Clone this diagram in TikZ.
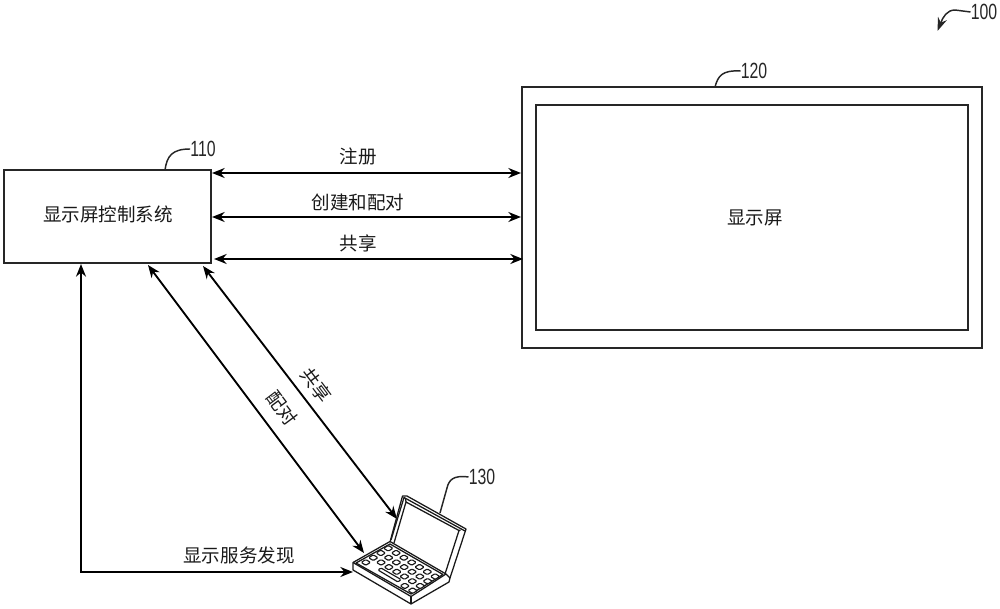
\documentclass[tikz,border=0pt]{standalone}
\usepackage{graphicx}
\usepackage{fontspec}
\setmainfont{Liberation Sans}
\newfontfamily\cjk{Noto Sans CJK SC}
\usetikzlibrary{arrows.meta}
\tikzset{
  box/.style={draw=black!85,line width=1.5pt,inner sep=0pt,fill=white},
  cn/.style={font=\cjk\fontsize{13.9}{16}\selectfont,inner sep=0pt,text=black!90},
  num/.style={font=\fontsize{16.5}{18}\selectfont,inner sep=0pt,text=black!85},
  link/.style={line width=1.4pt,black,{Stealth[length=9.5pt,width=7.5pt]}-{Stealth[length=9.5pt,width=7.5pt]}},
  leader/.style={line width=1.1pt,black!85},
  lap/.style={line width=.95pt,black!90,line join=round},
  keyb/.style={line width=.85pt,black!90,rounded corners=.8pt}
}
\newcommand{\numtxt}[1]{\scalebox{.72}[1]{#1}}
\begin{document}
\begin{tikzpicture}[x=.75pt,y=-.75pt]
\useasboundingbox (0,0) rectangle (1000,609);
% boxes
\node[box,minimum width=155.25pt,minimum height=69.75pt] (sys) at (107.5,216.5) {};
\node[cn] (systxt) at (108,214) {显示屏控制系统};
\node[box,minimum width=345pt,minimum height=195.75pt] (outer) at (752,217.5) {};
\node[box,minimum width=324pt,minimum height=168.75pt] (inner) at (752,217.5) {};
\node[cn] (distxt) at (755,218) {显示屏};
% anchors
\coordinate (a1) at (212,173); \coordinate (b1) at (521,173);
\coordinate (a2) at (212,217); \coordinate (b2) at (521,217);
\coordinate (a3) at (214,259); \coordinate (b3) at (523,259);
\coordinate (p1) at (148,265); \coordinate (p2) at (364,553);
\coordinate (s1) at (203,266); \coordinate (s2) at (397,519);
\coordinate (d1) at (81,264); \coordinate (dc) at (81,572); \coordinate (d2) at (353,572);
% links
\draw[link] (a1) -- (b1);
\draw[link] (a2) -- (b2);
\draw[link] (a3) -- (b3);
\draw[link] (p1) -- (p2);
\draw[link] (s1) -- (s2);
\draw[link] (d1) -- (dc) -- (d2);
% link labels
\node[cn] (l1) at (358,156) {注册};
\node[cn] (l2) at (358,202) {创建和配对};
\node[cn] (l3) at (358,243) {共享};
\node[cn,rotate=-53] (l4) at (316,385) {共享};
\node[cn,rotate=-53] (l5) at (282,408) {配对};
\node[cn] (l6) at (239,555) {显示服务发现};
% reference numerals
\node[num] (n100) at (984,12) {\numtxt{100}};
\node[num] (n110) at (203,149) {\numtxt{110}};
\node[num] (n120) at (754,71) {\numtxt{120}};
\node[num] (n130) at (482,477) {\numtxt{130}};
\coordinate (t100) at (937.5,31);
\coordinate (t110) at (165,170);
\coordinate (t120) at (715,87);
\coordinate (t130) at (440,513);
\draw[leader,-{Stealth[length=10pt,width=7pt]}] (n100.west) -- (955,10) .. controls (947,10) and (943,17) .. (t100);
\draw[leader] (t110) .. controls (167,156) and (172,149) .. (n110.west);
\draw[leader] (t120) .. controls (718,76) and (722,70) .. (n120.west);
\draw[leader] (t130) -- (447,488) .. controls (449,480) and (453,475) .. (n130.west);
% laptop
\fill[white] (353,563) -- (390,542) -- (403,496) -- (466,529) -- (450,580) -- (411,604) -- (353,570) -- cycle;
\draw[lap] (390,542) -- (402.5,496) -- (407,496) -- (466,529) -- (450,578);
\draw[lap] (391,540) -- (404,497.5) -- (465,531);
\draw[lap] (394,543) -- (406,502) -- (459,530.5) -- (445,574);
\draw[lap] (405.5,498.5) -- (406,502);
\draw[lap] (460.5,530) -- (459,530.5);
\draw[lap] (353,562.5) -- (390,541.5) -- (446,574) -- (411,596.5) -- cycle;
\draw[lap] (353,562.5) -- (353,570) -- (411,604) -- (449,582) -- (450,578) -- (446,574);
\draw[lap] (411,596.5) -- (411,604);
\draw[lap] (356,563) -- (390,544) -- (443,574.5) -- (411,594) -- cycle;
\foreach \r in {0,1,2,3}{
  \foreach \c in {0,...,6}{
    \pgfmathtruncatemacro{\skipk}{(\r==3 && \c>0 && \c<5) ? 1 : 0}
    \ifnum\skipk=0
      \pgfmathsetmacro{\kx}{388.3+7.8*\c-7.5*\r}
      \pgfmathsetmacro{\ky}{548.3+4.7*\c+4.7*\r}
      \draw[keyb,fill=white] (\kx-4.6,\ky) -- (\kx,\ky-2.9) -- (\kx+4.6,\ky) -- (\kx,\ky+2.9) -- cycle;
    \fi
  }
}
\draw[keyb,fill=white] (378,570) -- (381,568) -- (401,579.5) -- (398,582) -- cycle;
\end{tikzpicture}
\end{document}
